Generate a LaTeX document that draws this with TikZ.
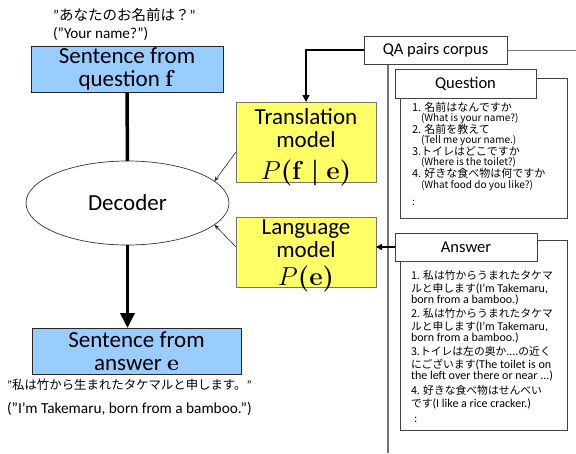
\RequirePackage{fix-cm}
\documentclass[tikz,border=0pt]{standalone}
\usepackage{amsmath}
\usepackage[no-math]{fontspec}
\setmainfont{Carlito}
\newfontfamily\jp{Noto Sans CJK JP}
\usetikzlibrary{arrows.meta,shapes.geometric}
\definecolor{boxblue}{RGB}{153,204,255}
\definecolor{boxyellow}{RGB}{255,255,102}
\newcommand{\fs}[1]{\fontsize{#1}{#1}\selectfont}
\newcommand{\cq}{{\rmfamily ”}}
\begin{document}
\begin{tikzpicture}[x=1pt,y=-1pt,
  every node/.style={inner sep=0pt, outer sep=0pt},
  bluebox/.style={draw=black!85, fill=boxblue, line width=0.8pt, align=center, font=\fontsize{23}{23}\selectfont},
  yellowbox/.style={draw=black!55, fill=boxyellow, line width=0.8pt},
  ytext/.style={anchor=base, font=\fs{23}},
  ymath/.style={anchor=base, font=\fs{26}},
  whitebox/.style={draw=black!75, fill=white, line width=0.8pt},
  decoder/.style={ellipse, draw=black!80, fill=white, line width=0.7pt, font=\fs{23}},
  thickline/.style={line width=3.5pt},
  bigarrow/.style={line width=3.5pt, -{Triangle[width=14pt,length=15pt]}},
  qaarrow/.style={line width=2pt, -{Triangle[width=7pt,length=7pt]}},
  ansarrow/.style={line width=1.8pt, -{Triangle[width=6pt,length=6pt]}},
  thinarrow/.style={line width=0.6pt, draw=black!85, -{Stealth[width=4pt,length=5pt]}},
  grayline/.style={draw=black!55, line width=1pt},
  vline/.style={draw=black!55, line width=1.5pt},
  qjp/.style={anchor=base west, font=\jp\fs{11}},
  qen/.style={anchor=base west, font=\jp\fs{10}},
  ajp/.style={anchor=base west, font=\jp\fs{10.8}},
  aen/.style={anchor=base west, font=\fs{12}}
]
\useasboundingbox (0,0) rectangle (576,453);

% quotes
\node[anchor=west, font=\jp\fs{14.5}] (qja) at (53,15) {\cq あなたのお名前は？\cq};
\node[anchor=west, font=\fs{15.2}] (qenq) at (53,34) {(”Your name?”)};
\node[anchor=west, font=\jp\fs{12.4}] (aja) at (7,385) {\cq 私は竹から生まれたタケマルと申します。\cq};
\node[anchor=west, font=\fs{15.3}] (aenq) at (7,409) {(”I’m Takemaru, born from a bamboo.”)};

% main nodes
\node[bluebox, minimum width=192pt, minimum height=46pt] (fbox) at (127,69) {Sentence from\\question $\mathbf{f}$};
\node[decoder, minimum width=203pt, minimum height=84pt] (dec) at (127.5,203) {Decoder};
\node[bluebox, minimum width=209pt, minimum height=46pt] (ebox) at (136.5,351) {Sentence from\\answer $\mathbf{e}$};

\node[yellowbox, minimum width=140pt, minimum height=80pt] (trans) at (306,142) {};
\node[ytext] (t1) at (306,124) {Translation};
\node[ytext] (t2) at (306,147.5) {model};
\node[ymath] (t3) at (306,179) {$P\boldsymbol{(}\mathbf{f}\;\boldsymbol{|}\;\mathbf{e}\boldsymbol{)}$};

\node[yellowbox, minimum width=140pt, minimum height=70pt] (lang) at (306,252) {};
\node[ytext] (l1) at (306,234) {Language};
\node[ytext] (l2) at (306,257) {model};
\node[ymath] (l3) at (306,285) {$P\boldsymbol{(}\mathbf{e}\boldsymbol{)}$};

% corpus
\coordinate (vtop) at (388,64);
\coordinate (vbot) at (388,453);
\coordinate (rend) at (576,48);
\draw[vline] (vtop) -- (vbot);
\node[whitebox, minimum width=143pt, minimum height=28pt, font=\fs{16.5}] (qa) at (435.5,50) {QA pairs corpus};
\draw[grayline] (qa.east) -- (qa.east -| rend);

\node[whitebox, minimum width=167pt, minimum height=140pt] (qouter) at (483.5,148) {};
\node[whitebox, minimum width=141pt, minimum height=29pt, font=\fs{16.5}] (qhead) at (465.5,83.5) {Question};
\node[whitebox, minimum width=167pt, minimum height=190pt] (aouter) at (483.5,335) {};
\node[whitebox, minimum width=142pt, minimum height=28pt, font=\fs{16.5}] (ahead) at (466,247) {Answer};

% question list
\node[qjp] (q1) at (412,111) {1. 名前はなんですか};
\node[qen] (q2) at (421,121.5) {(What is your name?)};
\node[qjp] (q3) at (412,133) {2. 名前を教えて};
\node[qen] (q4) at (421,143.5) {(Tell me your name.)};
\node[qjp] (q5) at (412,155) {3.トイレはどこですか};
\node[qen] (q6) at (421,165.5) {(Where is the toilet?)};
\node[qjp] (q7) at (412,177.5) {4. 好きな食べ物は何ですか};
\node[qen] (q8) at (421,188) {(What food do you like?)};
\node[qen] (q9) at (412,205) {:};

% answer list
\node[ajp] (a1) at (411,279) {1. 私は竹からうまれたタケマ};
\node[ajp] (a2) at (411,292) {ルと申します{\rmfamily\fs{12}(I’m Takemaru,}};
\node[aen] (a3) at (411,303) {born from a bamboo.)};
\node[ajp] (a4) at (411,317) {2. 私は竹からうまれたタケマ};
\node[ajp] (a5) at (411,330) {ルと申します{\rmfamily\fs{12}(I’m Takemaru,}};
\node[aen] (a6) at (411,341) {born from a bamboo.)};
\node[ajp] (a7) at (411,355.5) {3.トイレは左の奥か....の近く};
\node[ajp] (a8) at (411,368.5) {にございます{\rmfamily\fs{12}(The toilet is on}};
\node[aen] (a9) at (411,379.5) {the left over there or near ...)};
\node[ajp] (a10) at (411,394) {4. 好きな食べ物はせんべい};
\node[ajp] (a11) at (411,407) {です{\rmfamily\fs{12}(I like a rice cracker.)}};
\node[aen] (a12) at (414,422) {:};

% connectors
\draw[thickline] (fbox.south) -- (dec.north);
\draw[bigarrow] (dec.south) -- (dec.south |- ebox.north);
\draw[thinarrow] ([yshift=-10pt]trans.west) -- (dec.14);
\draw[thinarrow] ([yshift=5pt]lang.west) -- (dec.-14);
\draw[qaarrow] (qa.west) -| (trans.north);
\draw[ansarrow] (ahead.west) -- (ahead.west -| lang.east);
\end{tikzpicture}
\end{document}
